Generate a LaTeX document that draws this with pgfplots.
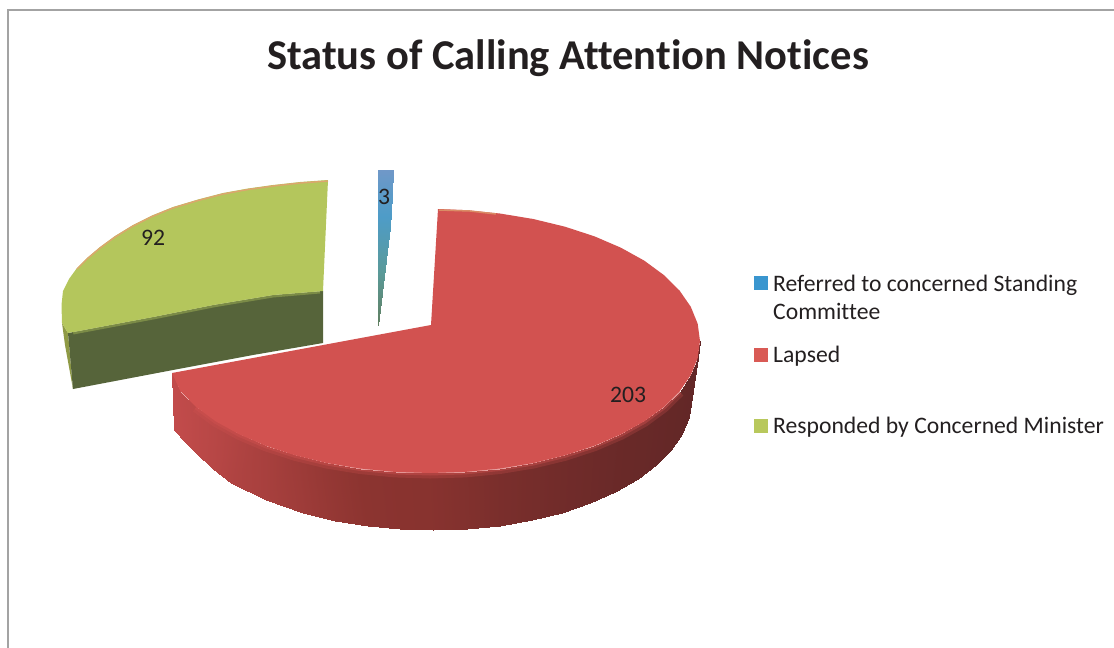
\documentclass[border=0pt]{standalone}
\usepackage{pgfplots}
\pgfplotsset{compat=1.18}
\usepackage{fontspec}
\setmainfont[Ligatures=NoCommon]{Carlito}
\definecolor{txt}{HTML}{231F20}
\definecolor{frame}{HTML}{A3A3A3}
\definecolor{redtop}{HTML}{D25250}
\definecolor{greentop}{HTML}{B4C65C}
\definecolor{greenside}{HTML}{56643A}
\definecolor{greenleft}{HTML}{8F9A45}
\definecolor{orangeedge}{HTML}{DDA56E}
\definecolor{legblue}{HTML}{3A96CF}
\definecolor{legred}{HTML}{D95A55}
\definecolor{leggreen}{HTML}{B8C85C}
\pgfplotsset{
  colormap={redside}{rgb255=(95,38,38) rgb255=(140,52,48) rgb255=(200,78,78)},
  colormap={blueslice}{rgb255=(112,152,200) rgb255=(78,156,200) rgb255=(90,154,154) rgb255=(96,127,96)},
}
\begin{document}
\begin{tikzpicture}
\begin{axis}[
  name=ax,
  scale only axis, width=1114pt, height=648pt,
  xmin=0, xmax=1114, ymin=0, ymax=648, y dir=reverse,
  hide axis, point meta min=0, point meta max=1,
  clip=true,
]
% frame
\addplot[frame, line width=1.6pt, forget plot] coordinates {(8,648) (8,10) (1114,10)};
% Lapsed: side wall of the slice
\addplot[patch, patch type=rectangle, shader=interp, colormap name=redside, point meta=explicit] table[meta=c] {
x y c
172 373 .95
180.5 391.5 .93
185 442 .93
174 430 .95
180.5 391.5 .93
196.2 407 .90
196 453 .90
185 442 .93
196.2 407 .90
215.8 421.4 .86
213 469 .86
196 453 .90
215.8 421.4 .86
239.1 434.3 .80
231 483 .80
213 469 .86
239.1 434.3 .80
265.6 445.7 .73
266 500 .73
231 483 .80
265.6 445.7 .73
295 455.3 .65
303 513 .65
266 500 .73
295 455.3 .65
326.7 463 .57
335 521 .57
303 513 .65
326.7 463 .57
360.1 468.5 .50
368 526 .50
335 521 .57
360.1 468.5 .50
394.8 471.9 .47
400 529 .47
368 526 .50
394.8 471.9 .47
430 473 .45
433 530 .45
400 529 .47
430 473 .45
465.2 471.9 .38
466.7 528.9 .38
433 530 .45
465.2 471.9 .38
499.9 468.5 .30
499.8 525.6 .30
466.7 528.9 .38
499.9 468.5 .30
533.3 463 .25
531.7 520.1 .25
499.8 525.6 .30
533.3 463 .25
565 455.3 .20
562 512.6 .20
531.7 520.1 .25
565 455.3 .20
594.4 445.7 .16
590.1 503.1 .16
562 512.6 .20
594.4 445.7 .16
620.9 434.3 .12
615.4 491.9 .12
590.1 503.1 .16
620.9 434.3 .12
644.2 421.4 .10
637.7 479.1 .10
615.4 491.9 .12
644.2 421.4 .10
663.8 407 .08
656.4 465 .08
637.7 479.1 .10
663.8 407 .08
679.5 391.5 .06
671.4 449.7 .06
656.4 465 .08
679.5 391.5 .06
690.8 375.2 .05
682.2 433.6 .05
671.4 449.7 .06
690.8 375.2 .05
697.7 358.2 .05
688.8 417 .05
682.2 433.6 .05
697.7 358.2 .05
700 341 .05
691 400 .05
688.8 417 .05
};
% Lapsed: top face
\addplot[draw=none, fill=redtop] coordinates {
(431,325) (438,209) (465.2,210.1) (499.9,213.5) (533.3,219) (565,226.7) (594.4,236.3) (620.9,247.7)
(644.2,260.6) (663.8,275) (679.5,290.5) (690.8,306.8) (697.7,323.8) (700,341) (697.7,358.2)
(690.8,375.2) (679.5,391.5) (663.8,407) (644.2,421.4) (620.9,434.3) (594.4,445.7) (565,455.3)
(533.3,463) (499.9,468.5) (465.2,471.9) (430,473) (394.8,471.9) (360.1,468.5) (326.7,463) (295,455.3)
(265.6,445.7) (239.1,434.3) (215.8,421.4) (196.2,407) (180.5,391.5) (172,373)} -- cycle;
% soft rim between top face and side wall
\addplot[color=redtop, opacity=.25, line width=11pt] coordinates {
(679.5,391.5) (663.8,407) (644.2,421.4) (620.9,434.3) (594.4,445.7) (565,455.3)
(533.3,463) (499.9,468.5) (465.2,471.9) (430,473) (394.8,471.9) (360.1,468.5) (326.7,463) (295,455.3)
(265.6,445.7) (239.1,434.3) (215.8,421.4) (196.2,407)};
\addplot[color=redtop, opacity=.4, line width=5pt] coordinates {
(679.5,391.5) (663.8,407) (644.2,421.4) (620.9,434.3) (594.4,445.7) (565,455.3)
(533.3,463) (499.9,468.5) (465.2,471.9) (430,473) (394.8,471.9) (360.1,468.5) (326.7,463) (295,455.3)
(265.6,445.7) (239.1,434.3) (215.8,421.4) (196.2,407)};
\addplot[line width=1.5pt, color=orangeedge!70!redtop] coordinates {(439,210) (470,211) (496,214)};
% Responded: side walls and top face
\addplot[draw=none, fill=greenleft] coordinates {(62,323) (68,333) (73,389) (65,345)} -- cycle;
\addplot[draw=none, fill=greenside] coordinates {
(68,333) (153,317) (213,305) (273,295) (323,291) (323,343) (253,355) (173,370) (73,389)} -- cycle;
\addplot[draw=none, fill=greentop] coordinates {
(328,180) (300,182) (273,185) (248,188.5) (223,193) (198,199.5) (173,207) (152,215.5) (133,225) (115,236)
(100,247) (87,258) (77,268) (69,279) (63,291) (61.5,305) (62,323)
(68,333) (153,317) (213,305) (273,295) (323,291)} -- cycle;
\addplot[color=greentop, opacity=.4, line width=5pt] coordinates {(73,332) (153,317) (213,305) (273,295) (320,291)};
\addplot[line width=1.4pt, color=orangeedge] coordinates {
(328,181) (300,183) (273,186) (248,189.5) (223,194) (198,200.5) (173,208) (152,216.5) (133,226) (115,237)
(100,248) (87,259) (77,269)};
% Referred: thin slice
\addplot[patch, patch type=rectangle, shader=interp, colormap name=blueslice, point meta=explicit] table[meta=c] {
x y c
378 170 0
393 170 0
392 195 .2
378 195 .2
378 195 .2
392 195 .2
390 227 .4
378 227 .4
378 227 .4
390 227 .4
386 260 .6
378 260 .6
378 260 .6
386 260 .6
382 293 .8
378 293 .8
378 293 .8
382 293 .8
378 325 1
378 325 1
};
% legend keys
\addplot[draw=none, fill=legblue]  coordinates {(754,276) (768,276) (768,290) (754,290)} -- cycle;
\addplot[draw=none, fill=legred]   coordinates {(754,348) (768,348) (768,362) (754,362)} -- cycle;
\addplot[draw=none, fill=leggreen] coordinates {(754,419) (768,419) (768,433) (754,433)} -- cycle;
% text
\node[anchor=base, text=txt, font=\fontsize{42.5}{42.5}\selectfont\bfseries] at (axis cs:568,69) {Status of Calling Attention Notices};
\node[anchor=base west, inner sep=0pt, text=txt, font=\fontsize{23.65}{24}\selectfont] at (axis cs:773,291) {Referred to concerned Standing};
\node[anchor=base west, inner sep=0pt, text=txt, font=\fontsize{23.65}{24}\selectfont] at (axis cs:773,319) {Committee};
\node[anchor=base west, inner sep=0pt, text=txt, font=\fontsize{23.65}{24}\selectfont] at (axis cs:773,362) {Lapsed};
\node[anchor=base west, inner sep=0pt, text=txt, font=\fontsize{23.65}{24}\selectfont] at (axis cs:773,433) {Responded by Concerned Minister};
\node[anchor=base, inner sep=0pt, text=txt, font=\fontsize{23.65}{24}\selectfont] at (axis cs:153,245) {92};
\node[anchor=base, inner sep=0pt, text=txt, font=\fontsize{23.65}{24}\selectfont] at (axis cs:384,204) {3};
\node[anchor=base, inner sep=0pt, text=txt, font=\fontsize{23.65}{24}\selectfont] at (axis cs:628,402) {203};
\end{axis}
\pgfresetboundingbox
\path[use as bounding box] (ax.south west) rectangle (ax.north east);
\end{tikzpicture}
\end{document}
